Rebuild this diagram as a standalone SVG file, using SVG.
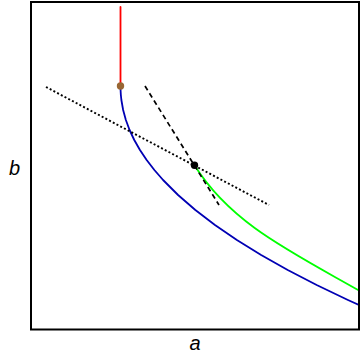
<svg xmlns="http://www.w3.org/2000/svg" width="360" height="360" viewBox="0 0 360 360">
<style>
.curve{fill:none;stroke-width:1.8;stroke-linejoin:round;stroke-linecap:round}
.lbl{font-family:"Liberation Sans",Arial,sans-serif;font-style:italic;font-size:20px;fill:#000}
</style>
<defs>
<clipPath id="plot"><rect x="31" y="2" width="328" height="327.5"/></clipPath>
</defs>
<rect width="360" height="360" fill="#fff"/>
<g id="connectors" clip-path="url(#plot)">
<path id="red" class="curve" stroke="#ff0000" d="M120.5,7 L120.5,86"/>
<path id="blue" class="curve" stroke="#0000b4" d="M120.5,86 L120.57,90 L120.86,95 L121.38,100 L123.14,110 L125.87,120 L129.57,130 L134.27,140 L139.96,150 L146.66,160 L154.37,170 L163.08,180 L178.07,195 L195.36,210 L214.96,225 L236.88,240 L261.14,255 L287.73,270 L316.67,285 L347.96,300 L358.93,305 L366,308.2"/>
<path id="green" class="curve" stroke="#00ff00" d="M194.5,165.3 C230.5,222.9 289,250.8 359,290.5 L366,294.5"/>
<path id="dotted" fill="none" stroke="#000" stroke-width="1.9" stroke-dasharray="2,2.2" d="M46,87 L269,205"/>
<path id="dashed" fill="none" stroke="#000" stroke-width="1.7" stroke-dasharray="5,3.5" d="M145,86 L219,205"/>
</g>
<g id="point-brown"><circle cx="120.5" cy="86" r="3.7" fill="#996633"/></g>
<g id="point-black"><circle cx="194.5" cy="165.3" r="3.7" fill="#000"/></g>
<g id="frame"><rect x="31" y="2" width="328" height="327.5" fill="none" stroke="#000" stroke-width="2"/></g>
<g id="axis-labels">
<text class="lbl" x="14.5" y="174.5" text-anchor="middle">b</text>
<text class="lbl" x="195" y="349.5" text-anchor="middle">a</text>
</g>
</svg>
